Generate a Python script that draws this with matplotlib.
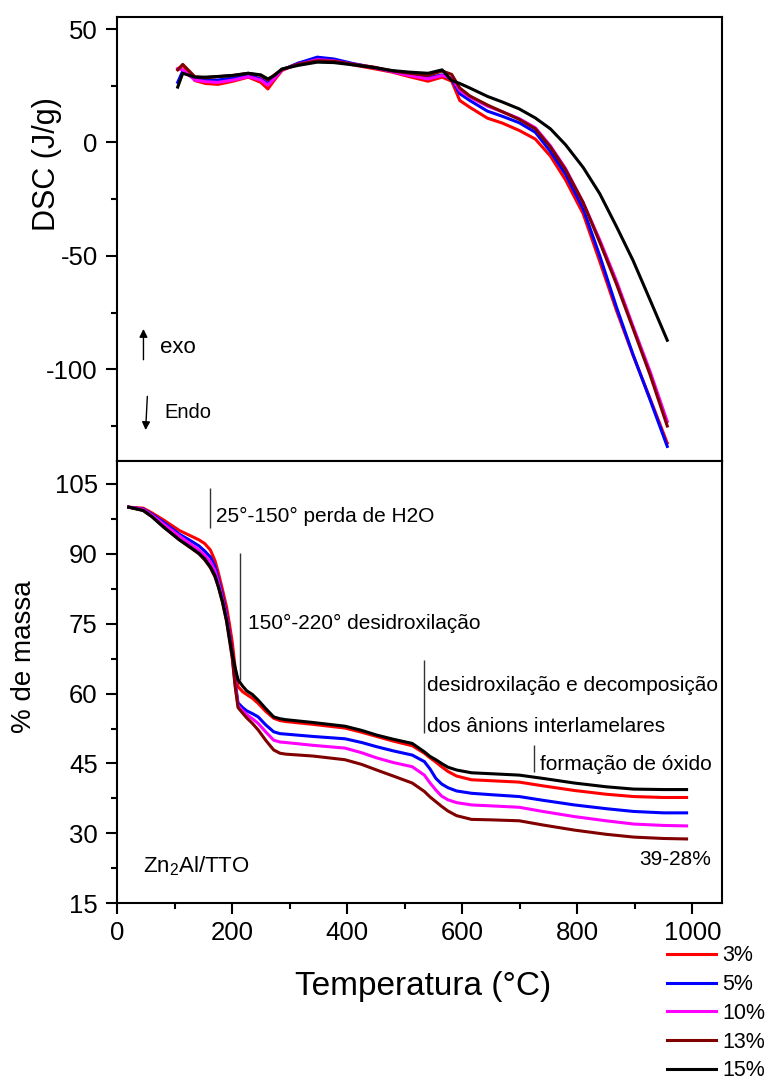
import matplotlib
matplotlib.use("Agg")
import matplotlib.pyplot as plt
from matplotlib.ticker import MultipleLocator

plt.rcParams["font.family"] = ["Liberation Sans", "DejaVu Sans"]
plt.rcParams["mathtext.default"] = "regular"
plt.rcParams["axes.unicode_minus"] = False

labels = ["3%", "5%", "10%", "13%", "15%"]
colors = ["#ff0000", "#0000ff", "#ff00ff", "#800000", "#000000"]

# DSC (top panel), J/g
t_dsc = [20, 30, 54, 75, 100, 130, 160, 185, 199, 212, 227, 260, 297, 330, 368, 410,
         446, 480, 517, 545, 564, 580, 600, 635, 665, 698, 730, 760, 790, 825, 858,
         891, 924, 958, 992]
dsc_3 = [32.4, 34.0, 27.3, 26.0, 25.6, 27.0, 28.8, 26.5, 23.6, 27.5, 31.7, 35.0, 36.9,
         36.0, 34.2, 32.5, 31.0, 29.0, 27.0, 28.8, 27.0, 18.5, 15.5, 10.7, 8.5, 5.3,
         1.5, -6.0, -16.5, -31.4, -52.5, -74.0, -93.8, -113.0, -132.5]
dsc_5 = [26.5, 31.5, 28.0, 27.5, 27.5, 28.5, 29.8, 28.0, 26.0, 28.5, 32.0, 35.0, 37.6,
         36.8, 34.8, 33.0, 31.3, 30.0, 28.5, 29.8, 28.0, 21.5, 18.5, 13.8, 11.5, 8.7,
         4.5, -4.0, -14.0, -29.2, -50.0, -72.5, -93.5, -113.5, -134.0]
dsc_10 = [32.5, 32.0, 27.5, 26.8, 26.5, 27.5, 29.0, 27.5, 25.2, 28.2, 32.0, 34.5, 36.5,
          36.0, 34.5, 33.0, 31.2, 29.5, 28.0, 29.5, 28.5, 23.0, 20.0, 16.0, 13.5, 10.5,
          6.5, -1.5, -11.5, -26.5, -43.0, -61.0, -81.0, -101.0, -123.0]
dsc_13 = [32.0, 34.4, 29.0, 28.5, 29.0, 29.5, 30.5, 29.5, 27.5, 29.8, 32.2, 34.5, 36.0,
          35.8, 34.5, 33.2, 31.5, 30.5, 29.5, 31.5, 30.0, 24.0, 20.5, 16.5, 13.5, 10.2,
          6.0, -2.0, -12.0, -26.5, -44.0, -62.3, -82.0, -102.5, -125.0]
dsc_15 = [24.4, 30.5, 28.8, 28.8, 29.1, 29.6, 30.5, 29.8, 28.0, 29.5, 32.4, 34.0, 35.4,
          35.2, 34.2, 33.0, 31.7, 31.0, 30.5, 32.0, 27.3, 26.0, 24.0, 20.3, 17.8, 14.8,
          10.8, 6.0, -1.0, -11.0, -22.6, -37.0, -52.0, -69.5, -87.2]

# TGA (bottom panel), % mass
t_tga = [20, 45, 60, 80, 108, 125, 142, 152, 162, 170, 176, 183, 190, 195, 200, 205,
         210, 218, 225, 235, 245, 258, 272, 283, 293, 340, 396, 425, 451, 480, 513,
         534, 544, 554, 564, 575, 590, 616, 650, 699, 740, 795, 850, 898, 950, 990]
tga_3 = [100, 99.8, 98.8, 97.3, 95.0, 94.0, 93.0, 92.2, 90.8, 88.5, 85.8, 82.3, 78.6,
         75.0, 71.0, 65.5, 61.5, 60.4, 59.8, 59.0, 57.9, 56.2, 54.7, 54.2, 54.0, 53.4,
         52.6, 51.7, 50.8, 49.8, 48.8, 47.2, 46.2, 45.3, 44.3, 43.3, 42.3, 41.5, 41.3,
         41.0, 40.2, 39.2, 38.4, 37.9, 37.7, 37.7]
tga_5 = [100, 99.6, 98.5, 96.8, 94.2, 93.0, 91.7, 90.6, 89.3, 87.2, 84.5, 81.0, 77.0,
         73.0, 68.5, 62.5, 58.0, 57.0, 56.3, 55.7, 55.0, 53.3, 51.8, 51.4, 51.3, 50.8,
         50.3, 49.5, 48.6, 47.7, 46.8, 45.4, 43.8, 41.8, 40.6, 39.8, 39.1, 38.6, 38.3,
         37.9, 37.1, 36.1, 35.3, 34.7, 34.4, 34.4]
tga_10 = [100, 99.5, 98.3, 96.4, 93.8, 92.3, 90.8, 89.7, 88.3, 86.3, 83.8, 80.3, 76.5,
          72.5, 68.0, 62.0, 57.4, 56.3, 55.5, 54.6, 53.6, 51.8, 50.0, 49.6, 49.5, 48.9,
          48.3, 47.3, 46.2, 45.2, 44.3, 42.5, 40.8, 39.3, 38.0, 37.2, 36.6, 36.1, 35.9,
          35.6, 34.7, 33.6, 32.7, 32.0, 31.7, 31.6]
tga_13 = [100, 99.3, 98.0, 95.8, 93.0, 91.5, 90.0, 88.7, 87.0, 85.0, 82.8, 79.5, 75.5,
          71.5, 67.5, 61.5, 57.0, 55.8, 54.8, 53.6, 52.2, 50.0, 47.9, 47.2, 47.0, 46.6,
          45.8, 44.8, 43.6, 42.3, 40.8, 39.0, 37.8, 36.8, 35.8, 34.8, 33.8, 33.0, 32.9,
          32.7, 31.8, 30.7, 29.8, 29.2, 28.9, 28.8]
tga_15 = [100, 99.3, 98.0, 95.8, 93.0, 91.6, 90.1, 88.9, 87.2, 85.3, 82.9, 79.8, 75.8,
          72.0, 68.5, 65.5, 63.0, 61.6, 60.6, 59.8, 58.6, 56.8, 55.0, 54.6, 54.4, 53.8,
          53.0, 52.1, 51.1, 50.2, 49.3, 47.5, 46.5, 45.8, 45.0, 44.2, 43.6, 43.0, 42.8,
          42.5, 41.8, 40.8, 40.0, 39.5, 39.4, 39.4]

dsc_series = [dsc_3, dsc_5, dsc_10, dsc_13, dsc_15]
tga_series = [tga_3, tga_5, tga_10, tga_13, tga_15]

fig = plt.figure(figsize=(7.71, 10.82), dpi=100)
ax1 = fig.add_axes([0.1521, 0.5742, 0.7839, 0.4105])
ax2 = fig.add_axes([0.1521, 0.1652, 0.7839, 0.4091])

for ys, c in zip(dsc_series, colors):
    ax1.plot(t_dsc, ys, color=c, lw=2.2, solid_joinstyle="round")
for ys, c, lab in zip(tga_series, colors, labels):
    ax2.plot(t_tga, ys, color=c, lw=2.2, label=lab, solid_joinstyle="round")

# --- top panel ---
ax1.set_xlim(-100, 1100)
ax1.set_ylim(-140.3, 55.5)
ax1.xaxis.set_major_locator(MultipleLocator(200))
ax1.xaxis.set_minor_locator(MultipleLocator(100))
ax1.yaxis.set_major_locator(MultipleLocator(50))
ax1.yaxis.set_minor_locator(MultipleLocator(25))
ax1.tick_params(axis="x", which="both", direction="out", labelbottom=False)
ax1.set_ylabel("DSC (J/g)", fontsize=22)
ax1.yaxis.set_label_coords(-0.092, 0.668)

ax1.annotate("", xy=(-48, -81), xytext=(-48, -97),
             arrowprops=dict(arrowstyle="-|>", color="k", lw=1, mutation_scale=12))
ax1.annotate("", xy=(-44, -128), xytext=(-40, -110.7),
             arrowprops=dict(arrowstyle="-|>", color="k", lw=1, mutation_scale=12))
ax1.text(-15, -90.6, "exo", fontsize=16, va="center")
ax1.text(-7, -119.1, "Endo", fontsize=14.5, va="center")

# --- bottom panel ---
ax2.set_xlim(0, 1051)
ax2.set_ylim(15, 110)
ax2.xaxis.set_major_locator(MultipleLocator(200))
ax2.xaxis.set_minor_locator(MultipleLocator(100))
ax2.yaxis.set_major_locator(MultipleLocator(15))
ax2.yaxis.set_minor_locator(MultipleLocator(7.5))
ax2.set_xlabel("Temperatura (°C)", fontsize=24)
ax2.xaxis.set_label_coords(0.506, -0.153)
ax2.set_ylabel("% de massa", fontsize=20)
ax2.yaxis.set_label_coords(-0.133, 0.556)

note_kw = dict(color="#333333", lw=1)
ax2.vlines(161, 95.5, 104.1, **note_kw)
ax2.text(171, 98.1, "25°-150° perda de H2O", fontsize=15, va="center")
ax2.vlines(214, 62.9, 90.1, **note_kw)
ax2.text(228, 75.1, "150°-220° desidroxilação", fontsize=15, va="center")
ax2.vlines(534, 51.5, 67.2, **note_kw)
ax2.text(539, 61.8, "desidroxilação e decomposição", fontsize=15, va="center", clip_on=False)
ax2.text(539, 53.0, "dos ânions interlamelares", fontsize=15, va="center")
ax2.vlines(724, 43.2, 49.0, **note_kw)
ax2.text(735, 44.7, "formação de óxido", fontsize=15, va="center")
ax2.text(908, 24.4, "39-28%", fontsize=15, va="center")
ax2.text(44, 22.9, "Zn$_2$Al/TTO", fontsize=16, va="center")

for ax in (ax1, ax2):
    for s in ax.spines.values():
        s.set_linewidth(1.5)
    ax.tick_params(which="major", length=8, width=1.5, labelsize=18.5, pad=6)
    ax.tick_params(which="minor", length=4, width=1.5)
    ax.tick_params(axis="x", which="major", pad=5)

fig.legend(loc="upper left", bbox_to_anchor=(0.8647, 0.1262), frameon=False,
           fontsize=15.5, handlelength=2.3, handletextpad=0.27, labelspacing=0.36,
           borderpad=0, borderaxespad=0)

fig.savefig("out.png", dpi=100)
